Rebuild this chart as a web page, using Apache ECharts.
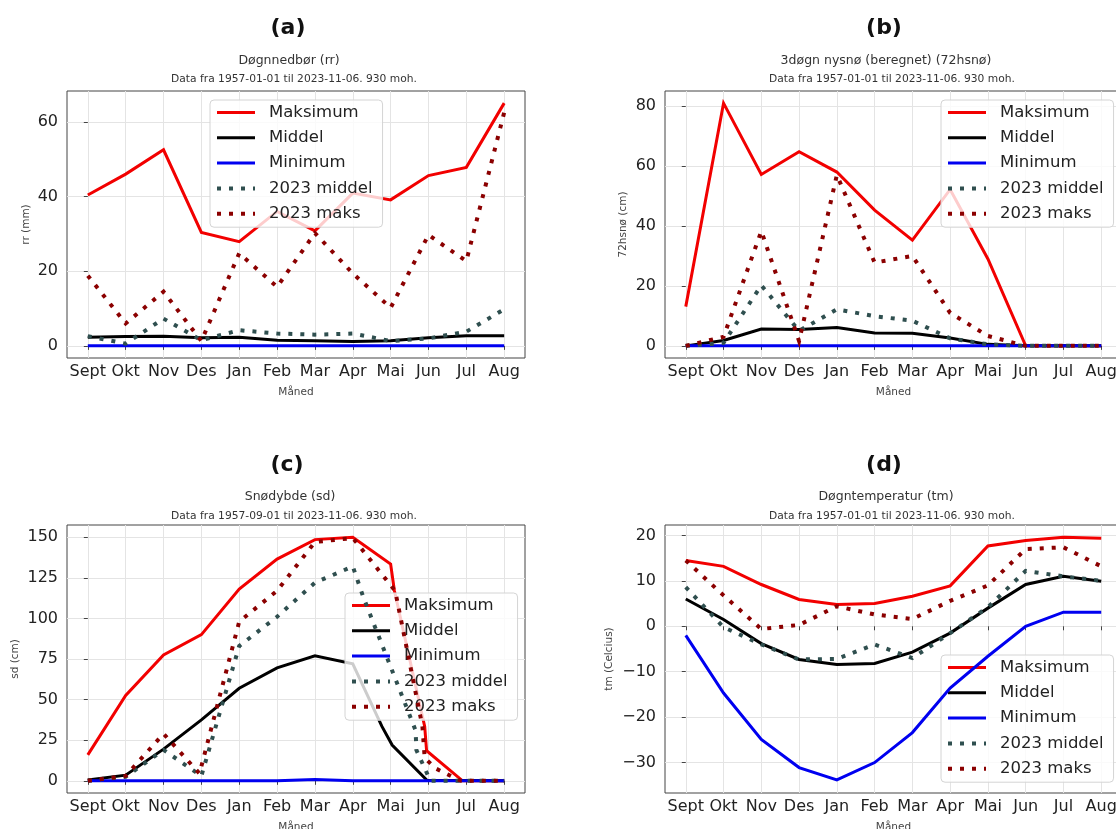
<!DOCTYPE html>
<html><head><meta charset="utf-8">
<script src="https://cdn.jsdelivr.net/npm/echarts@6/dist/echarts.min.js"></script>
<style>html,body{margin:0;padding:0;background:#fff}#c{width:1116px;height:829px}</style>
</head><body><div id="c"></div>
<script>
const months = ['Sept','Okt','Nov','Des','Jan','Feb','Mar','Apr','Mai','Jun','Jul','Aug'];
const monthIndex = [0,1,2,3,4,5,6,7,8,9,10,11];
const seriesNames = ['Maksimum','Middel','Minimum','2023 middel','2023 maks'];

// (a) Døgnnedbør (rr), mm
const rrMaks       = [40.4, 46.0, 52.5, 30.4, 27.9, 36.0, 30.8, 40.9, 39.1, 45.6, 47.8, 65.0];
const rrMiddel     = [2.3, 2.5, 2.6, 2.2, 2.3, 1.5, 1.4, 1.2, 1.4, 2.2, 2.7, 2.7];
const rrMinimum    = [0, 0, 0, 0, 0, 0, 0, 0, 0, 0, 0, 0];
const rr2023Middel = [2.6, 0.6, 7.3, 1.5, 4.2, 3.3, 3.0, 3.3, 1.3, 2.0, 3.8, 9.8];
const rr2023Maks   = [18.8, 6.0, 14.5, 1.3, 24.8, 15.8, 30.2, 19.4, 10.2, 29.7, 22.7, 62.5];

// (b) 3døgn nysnø (72hsnø), cm
const hsMaks       = [13.1, 81.0, 57.2, 64.8, 58.0, 45.3, 35.3, 52.2, 29.0, 0, 0, 0];
const hsMiddel     = [0, 1.8, 5.6, 5.5, 6.1, 4.3, 4.2, 2.6, 0.5, 0, 0, 0];
const hsMinimum    = [0, 0, 0, 0, 0, 0, 0, 0, 0, 0, 0, 0];
const hs2023Middel = [0, 1.0, 20.2, 5.0, 12.2, 9.9, 8.4, 2.5, 0.5, 0, 0, 0];
const hs2023Maks   = [0, 3.0, 38.3, 1.6, 57.0, 27.8, 30.0, 11.0, 3.3, 0, 0, 0];

// (c) Snødybde (sd), cm  (x = month position, some points fall between months)
const sdMaksX       = [0, 1, 2, 3, 4, 5, 6, 7, 8, 8.1, 8.9, 8.95, 9.9, 11];
const sdMaksY       = [16, 52.5, 77.5, 90, 118, 136.5, 148.5, 150, 133.5, 117, 33.5, 18.5, 0, 0];
const sdMiddelX     = [0, 1, 2, 3, 4, 5, 6, 7, 7.77, 8.04, 8.96, 11];
const sdMiddelY     = [0.5, 3.5, 19.5, 37.5, 57, 69.5, 77, 72, 33.5, 22, 0.3, 0];
const sdMinimumX    = [0, 1, 2, 3, 4, 5, 6, 7, 8, 9, 10, 11];
const sdMinimumY    = [0, 0, 0, 0, 0, 0, 0.8, 0, 0, 0, 0, 0];
const sd2023MiddelX = [0, 1, 2, 3, 4, 5, 6, 7, 7.28, 8.66, 8.68, 9.05, 11];
const sd2023MiddelY = [0, 2.5, 19, 3, 83, 101, 122, 132, 113, 31, 19, 0, 0];
const sd2023MaksX   = [0, 1, 2, 2.95, 4, 5, 6, 7, 8.12, 8.84, 8.9, 9.2, 9.85, 11];
const sd2023MaksY   = [0, 3, 29, 4.5, 98, 117, 147, 149.5, 117, 33.5, 14, 7.5, 0, 0];

// (d) Døgntemperatur (tm), °C
const tmMaks       = [14.5, 13.2, 9.2, 5.9, 4.8, 5.0, 6.6, 8.9, 17.7, 18.9, 19.6, 19.4];
const tmMiddel     = [6.0, 1.5, -3.8, -7.3, -8.4, -8.2, -5.7, -1.5, 4.0, 9.2, 11.0, 9.9];
const tmMinimum    = [-2.0, -14.7, -24.9, -31.1, -33.8, -30.0, -23.4, -13.6, -6.6, 0.0, 3.1, 3.1];
const tm2023Middel = [8.6, -0.2, -4.0, -7.3, -7.2, -4.0, -7.0, -1.5, 4.2, 12.2, 11.0, 10.0];
const tm2023Maks   = [14.5, 6.8, -0.6, 0.3, 4.4, 2.6, 1.6, 5.6, 9.0, 17.0, 17.4, 13.2];

// tick labels
const rrTicks = [0, 20, 40, 60];
const hsTicks = [0, 20, 40, 60, 80];
const sdTicks = [0, 25, 50, 75, 100, 125, 150];
const tmTicks = [-30, -20, -10, 0, 10, 20];

// texts
const panelLetters = ['(a)', '(b)', '(c)', '(d)'];
const panelTitles = ['Døgnnedbør (rr)', '3døgn nysnø (beregnet) (72hsnø)', 'Snødybde (sd)', 'Døgntemperatur (tm)'];
const panelSubtitles = ['Data fra 1957-01-01 til 2023-11-06. 930 moh.', 'Data fra 1957-01-01 til 2023-11-06. 930 moh.',
                        'Data fra 1957-09-01 til 2023-11-06. 930 moh.', 'Data fra 1957-01-01 til 2023-11-06. 930 moh.'];
const yNames = ['rr (mm)', '72hsnø (cm)', 'sd (cm)', 'tm (Celcius)'];
const xName = 'Måned';

const FONT = '"DejaVu Sans", sans-serif';
const styleOf = {
  'Maksimum':    { color: '#f20000', width: 3, type: 'solid' },
  'Middel':      { color: '#000000', width: 3, type: 'solid' },
  'Minimum':     { color: '#0000f0', width: 3, type: 'solid' },
  '2023 middel': { color: '#2f4f4f', width: 4, type: [4, 8] },
  '2023 maks':   { color: '#8b0000', width: 4, type: [4, 8] }
};

const monthly = vals => vals.map((v, i) => [monthIndex[i], v]);
const paired = (xs, ys) => xs.map((x, i) => [x, ys[i]]);

const panelData = [
  [monthly(rrMaks), monthly(rrMiddel), monthly(rrMinimum), monthly(rr2023Middel), monthly(rr2023Maks)],
  [monthly(hsMaks), monthly(hsMiddel), monthly(hsMinimum), monthly(hs2023Middel), monthly(hs2023Maks)],
  [paired(sdMaksX, sdMaksY), paired(sdMiddelX, sdMiddelY), paired(sdMinimumX, sdMinimumY),
   paired(sd2023MiddelX, sd2023MiddelY), paired(sd2023MaksX, sd2023MaksY)],
  [monthly(tmMaks), monthly(tmMiddel), monthly(tmMinimum), monthly(tm2023Middel), monthly(tm2023Maks)]
];

// layout
const grids = [
  { left: 67, top: 91, width: 458, height: 267 },
  { left: 665, top: 91, width: 457, height: 267 },
  { left: 67, top: 525, width: 458, height: 268 },
  { left: 665, top: 525, width: 457, height: 268 }
];
const yRanges = [[-3.25, 68.25], [-4.05, 85.05], [-7.5, 157.5], [-36.7, 22.3]];
const yTicks = [rrTicks, hsTicks, sdTicks, tmTicks];
const yNameGaps = [35, 36, 46, 50];
const legendPos = [[210, 100], [941, 100], [345, 593], [941, 655]];
const titlePos = [
  { t: [288, 28], l1: [289, 61], l2: [294, 79] },
  { t: [884, 28], l1: [886, 61], l2: [892, 79] },
  { t: [287, 465], l1: [290, 497], l2: [294, 516] },
  { t: [884, 465], l1: [886, 497], l2: [892, 516] }
];

const fmtY = v => (v < 0 ? '\u2212' + Math.abs(v) : String(v));

const legendItems = seriesNames.map(n => ({
  name: n,
  lineStyle: { width: styleOf[n].width, type: styleOf[n].type, color: styleOf[n].color, cap: 'butt' }
}));

const option = {
  backgroundColor: '#ffffff',
  animation: false,
  textStyle: { fontFamily: FONT },
  grid: grids.map(g => Object.assign({
    show: true, borderColor: '#444', borderWidth: 1, backgroundColor: 'transparent',
    containLabel: false, outerBoundsMode: 'none'
  }, g)),
  xAxis: grids.map((g, i) => ({
    type: 'value', gridIndex: i, min: -0.55, max: 11.55,
    name: xName, nameLocation: 'middle', nameGap: 29,
    nameTextStyle: { fontSize: 10.5, color: '#444', fontFamily: FONT },
    axisLine: { show: false },
    axisTick: { show: true, length: 4, inside: false, customValues: monthIndex, lineStyle: { color: '#444' } },
    axisLabel: { customValues: monthIndex, formatter: v => months[Math.round(v)], fontSize: 16, color: '#222',
                 margin: 6, fontFamily: FONT, hideOverlap: false },
    splitLine: { show: true, lineStyle: { color: '#e4e4e4', width: 1 } }
  })),
  yAxis: grids.map((g, i) => ({
    type: 'value', gridIndex: i, min: yRanges[i][0], max: yRanges[i][1],
    name: yNames[i], nameLocation: 'middle', nameGap: yNameGaps[i], nameRotate: 90,
    nameTextStyle: { fontSize: 10.5, color: '#444', fontFamily: FONT },
    axisLine: { show: false },
    axisTick: { show: true, length: 4, inside: false, customValues: yTicks[i], lineStyle: { color: '#444' } },
    axisLabel: { customValues: yTicks[i], formatter: fmtY, fontSize: 16, color: '#222', margin: 9, fontFamily: FONT },
    splitLine: { show: true, lineStyle: { color: '#e4e4e4', width: 1 } }
  })),
  legend: legendPos.map(p => ({
    data: legendItems, orient: 'vertical', left: p[0], top: p[1],
    itemWidth: 38, itemHeight: 14, itemGap: 8.3, selectedMode: false,
    itemStyle: { opacity: 0 },
    lineStyle: { width: 'inherit', type: 'inherit' },
    backgroundColor: 'rgba(255,255,255,0.8)', borderColor: '#d4d4d4', borderWidth: 1, borderRadius: 4,
    padding: [4, 10, 5, 5],
    textStyle: { fontSize: 16.5, color: '#222', fontFamily: FONT, padding: [0, 0, 0, 9], lineHeight: 17 }
  })),
  series: [],
  graphic: []
};

panelData.forEach((list, p) => {
  list.forEach((data, k) => {
    const name = seriesNames[k];
    const st = styleOf[name];
    option.series.push({
      type: 'line', name: name, xAxisIndex: p, yAxisIndex: p, data: data,
      symbol: 'none', showSymbol: false, smooth: false, silent: true, clip: true,
      color: st.color, z: 2 + k,
      lineStyle: { color: st.color, width: st.width, type: st.type, cap: 'butt', join: 'miter' }
    });
  });
  const tp = titlePos[p];
  option.graphic.push(
    { type: 'text', x: tp.t[0], y: tp.t[1], silent: true,
      style: { text: panelLetters[p], fill: '#111', font: 'bold 22px ' + FONT, textAlign: 'center', textVerticalAlign: 'middle', align: 'center', verticalAlign: 'middle' } },
    { type: 'text', x: tp.l1[0], y: tp.l1[1], silent: true,
      style: { text: panelTitles[p], fill: '#333', font: '12.5px ' + FONT, textAlign: 'center', textVerticalAlign: 'middle', align: 'center', verticalAlign: 'middle' } },
    { type: 'text', x: tp.l2[0], y: tp.l2[1], silent: true,
      style: { text: panelSubtitles[p], fill: '#333', font: '10.7px ' + FONT, textAlign: 'center', textVerticalAlign: 'middle', align: 'center', verticalAlign: 'middle' } }
  );
});

const chart = echarts.init(document.getElementById('c'), null, { renderer: 'canvas' });
chart.setOption(option);
</script>
</body></html>
